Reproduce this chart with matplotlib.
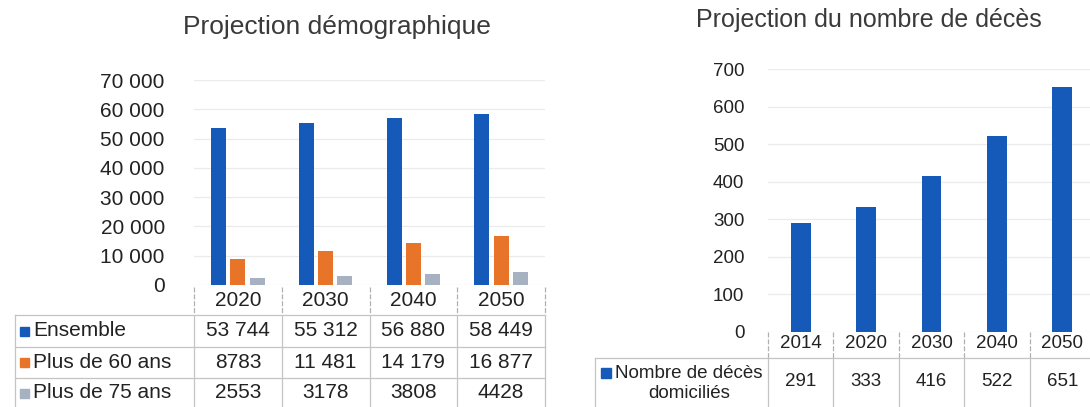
import matplotlib
matplotlib.use('Agg')
import matplotlib.pyplot as plt
import numpy as np
from matplotlib.patches import Rectangle
from matplotlib.transforms import blended_transform_factory

plt.rcParams['font.family'] = ['Liberation Sans', 'DejaVu Sans']

# --- data ---
years_demo = ['2020', '2030', '2040', '2050']
ensemble = [53744, 55312, 56880, 58449]
plus_60 = [8783, 11481, 14179, 16877]
plus_75 = [2553, 3178, 3808, 4428]
series_names = ['Ensemble', 'Plus de 60 ans', 'Plus de 75 ans']

years_deces = ['2014', '2020', '2030', '2040', '2050']
deces = [291, 333, 416, 522, 651]
deces_label = ['Nombre de décès', 'domiciliés']

colors = ['#155ab8', '#e8742a', '#a6b2c2']
txt = '#222222'
line_c = '#c4c4c4'

W, H = 1090, 407
fig = plt.figure(figsize=(W / 100, H / 100), dpi=100)


def px_axes(x0, y0, x1, y1):
    return fig.add_axes([x0 / W, 1 - y1 / H, (x1 - x0) / W, (y1 - y0) / H])


def fmt(v):
    v = int(v)
    if v >= 10000:
        return f'{v:,}'.replace(',', ' ')
    return str(v)


def style_axes(ax, pad, size):
    for s in ax.spines.values():
        s.set_visible(False)
    ax.set_xticks([])
    ax.grid(axis='y', color='#ebebeb', lw=0.9)
    ax.set_axisbelow(True)
    ax.tick_params(axis='y', length=0, pad=pad, labelsize=size, labelcolor=txt)
    ax.yaxis.set_major_formatter(plt.FuncFormatter(lambda v, p: fmt(v)))


# overlay in pixel coords for the tables
ov = fig.add_axes([0, 0, 1, 1], zorder=5)
ov.set_xlim(0, W)
ov.set_ylim(H, 0)
ov.axis('off')

# ---------- left chart ----------
ax1 = px_axes(194, 80, 545, 285)
x = np.arange(len(years_demo))
offsets = [-0.22, 0.0, 0.22]
for vals, off, c in zip([ensemble, plus_60, plus_75], offsets, colors):
    ax1.bar(x + off, vals, width=0.17, color=c)
ax1.set_xlim(-0.5, len(years_demo) - 0.5)
ax1.set_ylim(0, 70000)
ax1.set_yticks(np.arange(0, 70001, 10000))
style_axes(ax1, 21, 15)

t1 = blended_transform_factory(ax1.transData, ov.transData)
right1 = ax1.get_position().x1 * W
for i, yr in enumerate(years_demo):
    ov.text(i, 301, yr, transform=t1, ha='center', va='center', fontsize=15, color=txt)
for b in np.arange(len(years_demo) + 1) - 0.5:
    ov.plot([b, b], [287, 315], transform=t1, color='#b0b0b0', lw=0.9, ls=(0, (4, 1.5)))
    ov.plot([b, b], [315, 407], transform=t1, color=line_c, lw=0.9)
for yb in [315, 347, 378]:
    ov.plot([15, right1], [yb, yb], color=line_c, lw=0.9)
ov.plot([15, 15], [315, 407], color=line_c, lw=0.9)

row_y = [331, 362, 393]
for name, vals, c, ry in zip(series_names, [ensemble, plus_60, plus_75], colors, row_y):
    ov.add_patch(Rectangle((20, ry - 4.5), 9, 9, color=c))
    ov.text(33, ry, name, ha='left', va='center', fontsize=15, color=txt)
    for i, v in enumerate(vals):
        ov.text(i, ry, fmt(v), transform=t1, ha='center', va='center', fontsize=15, color=txt)

fig.text(337 / W, 1 - 27 / H, 'Projection démographique', ha='center', va='center',
         fontsize=19, color='#3a3a3a')

# ---------- right chart ----------
ax2 = px_axes(768, 69, 1095, 332)
x2 = np.arange(len(years_deces))
ax2.bar(x2, deces, width=0.3, color=colors[0])
ax2.set_xlim(-0.5, len(years_deces) - 0.5)
ax2.set_ylim(0, 700)
ax2.set_yticks(np.arange(0, 701, 100))
style_axes(ax2, 17, 13.5)

t2 = blended_transform_factory(ax2.transData, ov.transData)
for i, yr in enumerate(years_deces):
    ov.text(i, 344, yr, transform=t2, ha='center', va='center', fontsize=13.5, color=txt)
for b in np.arange(len(years_deces) + 1) - 0.5:
    ov.plot([b, b], [332, 358], transform=t2, color='#b0b0b0', lw=0.9, ls=(0, (4, 1.5)))
    ov.plot([b, b], [358, 407], transform=t2, color=line_c, lw=0.9)
ov.plot([595, W], [358, 358], color=line_c, lw=0.9)
ov.plot([595, 595], [358, 407], color=line_c, lw=0.9)

ov.add_patch(Rectangle((601, 368), 10, 10, color=colors[0]))
ov.text(689, 373, deces_label[0], ha='center', va='center', fontsize=13.5, color=txt)
ov.text(689, 393, deces_label[1], ha='center', va='center', fontsize=13.5, color=txt)
for i, v in enumerate(deces):
    ov.text(i, 382, fmt(v), transform=t2, ha='center', va='center', fontsize=13.5, color=txt)

fig.text(869 / W, 1 - 20 / H, 'Projection du nombre de décès', ha='center', va='center',
         fontsize=18, color='#3a3a3a')

fig.savefig('out.png', dpi=100)
